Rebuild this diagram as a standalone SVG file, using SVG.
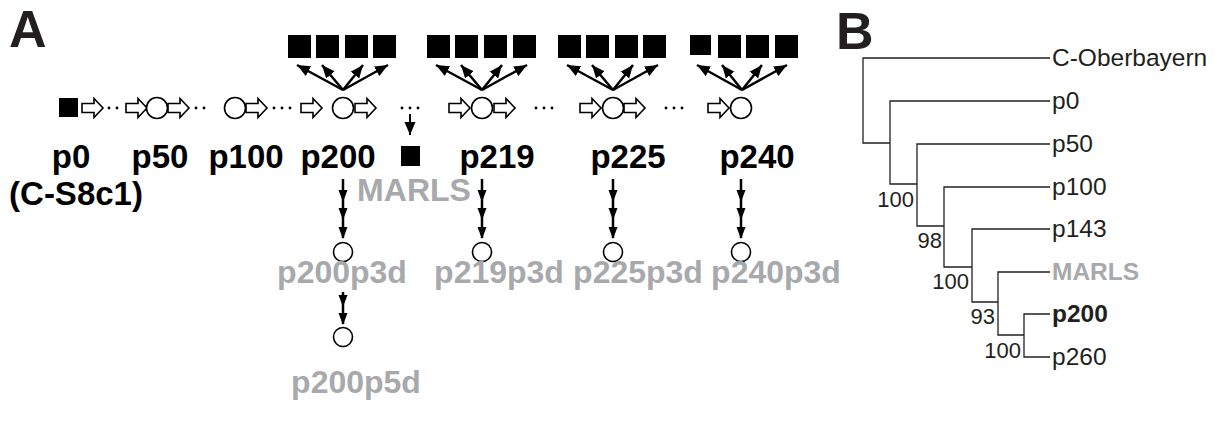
<svg xmlns="http://www.w3.org/2000/svg" width="1222" height="421" viewBox="0 0 1222 421">
<style>
.bg{fill:#fff}
.sq{fill:#000}
.ba{fill:#fff;stroke:#000;stroke-width:1.6;stroke-linejoin:miter}
.cir{fill:#fff;stroke:#000;stroke-width:1.6}
.dot{fill:#000}
.ln{stroke:#000;stroke-width:2.5;fill:none}
.tr{stroke:#231f20;stroke-width:1.3;fill:none}
.lab{font-family:"Liberation Sans",Arial,sans-serif;font-weight:bold;font-size:33px;fill:#000;text-anchor:middle}
.gray{fill:#a7a9ac;font-size:32px}
.big{font-family:"Liberation Sans",Arial,sans-serif;font-weight:bold;font-size:52px;fill:#231f20}
.leaf{font-family:"Liberation Sans",Arial,sans-serif;font-size:24.5px;fill:#231f20}
.bs{font-family:"Liberation Sans",Arial,sans-serif;font-size:22px;fill:#231f20;text-anchor:end}
</style>
<defs>
<path id="ba" d="M0,-4.5 H12 V-9.5 L21,0 L12,9.5 V4.5 H0 Z"/>
<marker id="ah" markerWidth="13" markerHeight="12" viewBox="0 0 13 12" refX="13" refY="6" orient="auto" markerUnits="userSpaceOnUse">
<path d="M0,0.5 L13,6 L0,11.5 Z" fill="#000"/>
</marker>
<path id="head" d="M-4.5,-12 L4.5,-12 L0,0 Z" fill="#000"/>
</defs>
<rect class="bg" width="1222" height="421"/>
<text class="big" x="9" y="47">A</text>
<text class="big" x="836" y="49">B</text>

<g id="connectors">
<g class="ba">
<use href="#ba" x="82" y="108"/>
<use href="#ba" x="126" y="108"/>
<use href="#ba" x="168" y="108"/>
<use href="#ba" x="246" y="108"/>
<use href="#ba" x="301" y="108"/>
<use href="#ba" x="355" y="108"/>
<use href="#ba" x="449" y="108"/>
<use href="#ba" x="494" y="108"/>
<use href="#ba" x="580" y="108"/>
<use href="#ba" x="624" y="108"/>
<use href="#ba" x="708" y="108"/>
</g>
<g class="dot">
<circle cx="109" cy="108" r="1.4"/><circle cx="117" cy="108" r="1.4"/>
<circle cx="196" cy="108" r="1.4"/><circle cx="204" cy="108" r="1.4"/>
<circle cx="274" cy="108" r="1.4"/><circle cx="282" cy="108" r="1.4"/><circle cx="290" cy="108" r="1.4"/>
<circle cx="402" cy="108" r="1.4"/><circle cx="410" cy="108" r="1.4"/><circle cx="418" cy="108" r="1.4"/>
<circle cx="536" cy="108" r="1.4"/><circle cx="544" cy="108" r="1.4"/><circle cx="552" cy="108" r="1.4"/>
<circle cx="666" cy="108" r="1.4"/><circle cx="674" cy="108" r="1.4"/><circle cx="682" cy="108" r="1.4"/>
</g>
<g class="ln" marker-end="url(#ah)">
<path d="M343,90 L297,65"/><path d="M343,90 L322,65"/><path d="M343,90 L363,65"/><path d="M343,90 L388,65"/>
<path d="M482,90 L436,65"/><path d="M482,90 L461,65"/><path d="M482,90 L502,65"/><path d="M482,90 L527,65"/>
<path d="M613,90 L567,65"/><path d="M613,90 L592,65"/><path d="M613,90 L633,65"/><path d="M613,90 L658,65"/>
<path d="M742,90 L697,65"/><path d="M742,90 L722,65"/><path d="M742,90 L762,65"/><path d="M742,90 L787,65"/>
</g>
<path class="ln" d="M410,114 L410,135" marker-end="url(#ah)" style="stroke-width:2"/>
<g class="ln">
<path d="M343,179 V238"/><path d="M482,179 V238"/><path d="M613,179 V238"/><path d="M741,179 V238"/>
<path d="M343,292 V324"/>
</g>
<g>
<use href="#head" x="343" y="202"/><use href="#head" x="343" y="220"/><use href="#head" x="343" y="239"/>
<use href="#head" x="482" y="202"/><use href="#head" x="482" y="220"/><use href="#head" x="482" y="239"/>
<use href="#head" x="613" y="202"/><use href="#head" x="613" y="220"/><use href="#head" x="613" y="239"/>
<use href="#head" x="741" y="202"/><use href="#head" x="741" y="220"/><use href="#head" x="741" y="239"/>
<use href="#head" x="343" y="307"/><use href="#head" x="343" y="325"/>
</g>
<g class="tr">
<path d="M1050,58 H863 V143 H890"/>
<path d="M1050,101 H890 V184 H917"/>
<path d="M1050,144 H917 V226 H944"/>
<path d="M1050,187 H944 V267 H972"/>
<path d="M1050,229 H972 V302 H998"/>
<path d="M1050,272 H998 V335 H1024"/>
<path d="M1050,314 H1024 V357 H1050"/>
</g>
</g>

<g id="p0">
<rect class="sq" x="59" y="98" width="19" height="19"/>
<text class="lab" x="71" y="168">p0</text>
<text class="lab" x="76" y="205">(C-S8c1)</text>
</g>
<g id="p50">
<circle class="cir" cx="157" cy="108" r="10.5"/>
<text class="lab" x="160" y="168">p50</text>
</g>
<g id="p100">
<circle class="cir" cx="235" cy="108" r="10.5"/>
<text class="lab" x="246" y="168">p100</text>
</g>
<g id="p200">
<circle class="cir" cx="343" cy="108" r="10.5"/>
<text class="lab" x="338" y="168">p200</text>
<rect class="sq" x="288" y="35" width="23" height="23"/><rect class="sq" x="316" y="35" width="23" height="23"/><rect class="sq" x="345" y="35" width="23" height="23"/><rect class="sq" x="373" y="35" width="23" height="23"/>
</g>
<g id="marls">
<rect class="sq" x="401" y="146" width="19" height="20"/>
<text class="lab gray" x="414" y="201">MARLS</text>
</g>
<g id="p219">
<circle class="cir" cx="482" cy="108" r="10.5"/>
<text class="lab" x="497" y="168">p219</text>
<rect class="sq" x="427" y="35" width="23" height="23"/><rect class="sq" x="455" y="35" width="23" height="23"/><rect class="sq" x="484" y="35" width="23" height="23"/><rect class="sq" x="513" y="35" width="23" height="23"/>
</g>
<g id="p225">
<circle class="cir" cx="613" cy="108" r="10.5"/>
<text class="lab" x="628" y="168">p225</text>
<rect class="sq" x="558" y="35" width="23" height="23"/><rect class="sq" x="586" y="35" width="23" height="23"/><rect class="sq" x="615" y="35" width="23" height="23"/><rect class="sq" x="643" y="35" width="23" height="23"/>
</g>
<g id="p240">
<circle class="cir" cx="741" cy="108" r="10.5"/>
<text class="lab" x="757" y="168">p240</text>
<rect class="sq" x="690" y="35" width="21" height="20"/><rect class="sq" x="718" y="35" width="23" height="23"/><rect class="sq" x="746" y="35" width="23" height="23"/><rect class="sq" x="775" y="35" width="23" height="23"/>
</g>
<g id="p200p3d">
<circle class="cir" cx="343" cy="252" r="9.5"/>
<text class="lab gray" x="342" y="283">p200p3d</text>
</g>
<g id="p219p3d">
<circle class="cir" cx="482" cy="252" r="9.5"/>
<text class="lab gray" x="499" y="283">p219p3d</text>
</g>
<g id="p225p3d">
<circle class="cir" cx="613" cy="252" r="9.5"/>
<text class="lab gray" x="638" y="283">p225p3d</text>
</g>
<g id="p240p3d">
<circle class="cir" cx="741" cy="252" r="9.5"/>
<text class="lab gray" x="776" y="283">p240p3d</text>
</g>
<g id="p200p5d">
<circle class="cir" cx="343" cy="337" r="9.5"/>
<text class="lab gray" x="356" y="393">p200p5d</text>
</g>

<g id="tree-labels">
<text class="leaf" x="1052" y="66">C-Oberbayern</text>
<text class="leaf" x="1052" y="109">p0</text>
<text class="leaf" x="1052" y="152">p50</text>
<text class="leaf" x="1052" y="195">p100</text>
<text class="leaf" x="1052" y="237">p143</text>
<text class="leaf" x="1052" y="280" style="font-weight:bold;fill:#a7a9ac">MARLS</text>
<text class="leaf" x="1052" y="322" style="font-weight:bold">p200</text>
<text class="leaf" x="1052" y="365">p260</text>
<text class="bs" x="914" y="207">100</text>
<text class="bs" x="942" y="248">98</text>
<text class="bs" x="969" y="289">100</text>
<text class="bs" x="995" y="324">93</text>
<text class="bs" x="1021" y="358">100</text>
</g>
</svg>
